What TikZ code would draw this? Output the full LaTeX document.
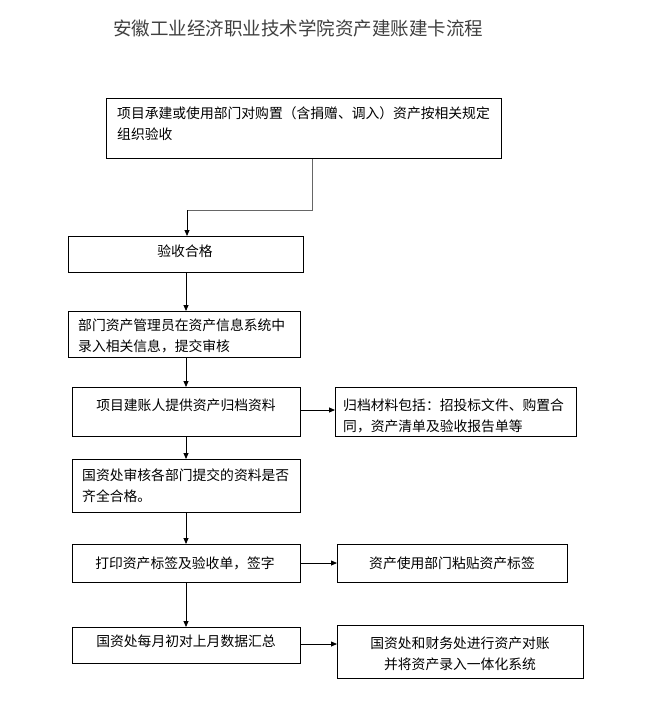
\documentclass[tikz,border=0pt]{standalone}
\usepackage{fontspec}
\setmainfont{Noto Sans CJK SC}
\usetikzlibrary{arrows.meta}
\begin{document}
\begin{tikzpicture}[x=1pt,y=-1pt,
  box/.style={draw,line width=0.8pt,inner sep=0pt,anchor=north west},
  txt/.style={inner sep=0pt,font=\fontsize{13.8}{21}\selectfont},
  lt/.style={txt,anchor=west,align=left},
  ct/.style={txt,align=center},
  arr/.style={line width=0.8pt,-{Triangle[length=6pt,width=5pt]}}]
\useasboundingbox (0,0) rectangle (658,712);
\node[inner sep=0pt,text=black!75,font=\fontsize{18.5}{22}\selectfont] (title) at (298,28) {安徽工业经济职业技术学院资产建账建卡流程};
% boxes
\node[box,minimum width=395pt,minimum height=60pt] (b1) at (106,98) {};
\node[box,minimum width=235pt,minimum height=36pt] (b2) at (68,236) {};
\node[box,minimum width=232pt,minimum height=46pt] (b3) at (68,311) {};
\node[box,minimum width=228pt,minimum height=49pt] (b4) at (72,387) {};
\node[box,minimum width=241pt,minimum height=49pt] (b4r) at (335,387) {};
\node[box,minimum width=228pt,minimum height=53pt] (b5) at (72,459) {};
\node[box,minimum width=228pt,minimum height=38pt] (b6) at (72,544) {};
\node[box,minimum width=230pt,minimum height=38pt] (b6r) at (337,544) {};
\node[box,minimum width=228pt,minimum height=36pt] (b7) at (72,627) {};
\node[box,minimum width=246pt,minimum height=53pt] (b7r) at (337,625) {};
% texts
\node[lt] (t1) at (117,123.5) {项目承建或使用部门对购置（含捐赠、调入）资产按相关规定\\组织验收};
\node[ct] (t2) at (185,251) {验收合格};
\node[lt] (t3) at (78,336) {部门资产管理员在资产信息系统中\\录入相关信息，提交审核};
\node[ct] (t4) at (186,405) {项目建账人提供资产归档资料};
\node[lt] (t4r) at (343,415.5) {归档材料包括：招投标文件、购置合\\同，资产清单及验收报告单等};
\node[lt] (t5) at (82,486) {国资处审核各部门提交的资料是否\\齐全合格。};
\node[ct] (t6) at (185,563) {打印资产标签及验收单，签字};
\node[ct] (t6r) at (452,563) {资产使用部门粘贴资产标签};
\node[ct] (t7) at (186,641) {国资处每月初对上月数据汇总};
\node[ct] (t7r) at (460,653.5) {国资处和财务处进行资产对账\\并将资产录入一体化系统};
% connectors
\coordinate (k1) at (312,210);
\coordinate (k2) at (187,210);
\draw[line width=0.8pt,black!60] (b1.south -| k1) -- (k1) -- (k2);
\draw[arr] (k2) -- (b2.north -| k2);
\draw[arr] (b2.south -| 186,0) -- (b3.north -| 186,0);
\draw[arr] (b3.south -| 186,0) -- (b4.north -| 186,0);
\draw[arr] (b4.south -| 186,0) -- (b5.north -| 186,0);
\draw[arr] (b5.south -| 186,0) -- (b6.north -| 186,0);
\draw[arr] (b6.south -| 186,0) -- (b7.north -| 186,0);
\draw[arr] (b4.east |- 0,410) -- (b4r.west |- 0,410);
\draw[arr] (b6.east |- 0,563) -- (b6r.west |- 0,563);
\draw[arr] (b7.east |- 0,644) -- (b7r.west |- 0,644);
\end{tikzpicture}
\end{document}
